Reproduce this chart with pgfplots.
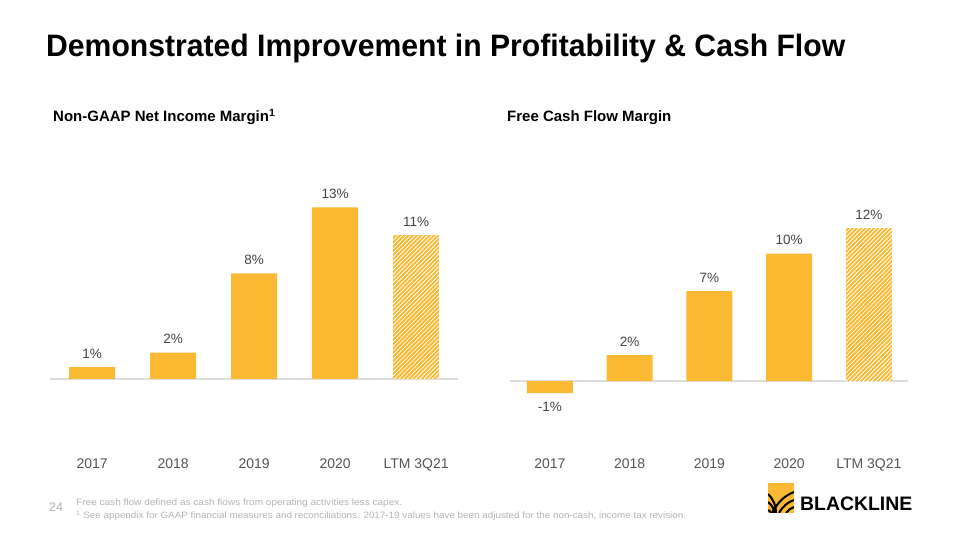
\documentclass[border=0pt]{standalone}
\usepackage{pgfplots}
\pgfplotsset{compat=1.18}
\usepackage{fontspec}
\setmainfont{Liberation Sans}
\usetikzlibrary{patterns.meta}
\definecolor{barc}{HTML}{FBB934}
\definecolor{labc}{HTML}{444444}
\definecolor{tickc}{HTML}{555555}
\definecolor{footc}{HTML}{B4B4B4}
\pgfplotsset{
  mybars/.style={
    axis x line*=bottom, axis y line=none,
    x axis line style={draw=none},
    major tick length=0pt,
    xtick={0,1,2,3,4},
    xticklabels={2017,2018,2019,2020,LTM 3Q21},
    xticklabel style={anchor=base, inner sep=0pt, font=\fontsize{14}{16}\selectfont, text=tickc},
    ybar, bar width=46pt, bar shift=0pt,
    clip=false,
    anchor=south west,
  },
  lbl/.style={
    nodes near coords={\pgfmathprintnumber[fixed,precision=0,assume math mode=true]{\pgfplotspointmeta}\%},
    every node near coord/.append style={font=\fontsize{13.5}{16}\selectfont, text=labc, inner sep=8.5pt},
  },
}
\begin{document}
\begin{tikzpicture}[x=1pt,y=1pt]
\path[use as bounding box, fill=white] (0,0) rectangle (960,540);
% title
\node[anchor=base west, inner sep=0pt] at (46,483)
  {\resizebox{799pt}{\height}{\fontsize{31}{36}\selectfont\bfseries Demonstrated Improvement in Profitability \& Cash Flow}};
% subtitles
\node[anchor=base west, inner sep=0pt] at (53,418)
  {\fontsize{15}{18}\selectfont\bfseries Non-GAAP Net Income Margin\textsuperscript{1}};
\node[anchor=base west, inner sep=0pt] at (507,418)
  {\fontsize{15}{18}\selectfont\bfseries Free Cash Flow Margin};

% left chart
\begin{axis}[mybars, at={(50pt,71pt)}, x=81pt, y=13.2pt,
  xmin=-0.52, xmax=4.52, ymin=-6.82, ymax=14]
\addplot[sharp plot, draw=black!13, line width=1.2pt, forget plot] coordinates {(-0.52,0) (4.52,0)};
\addplot[fill=barc, draw=none, lbl] coordinates {(0,0.9) (1,2.0) (2,8.0) (3,13.0)};
\addplot[fill=barc, draw=none, lbl,
  postaction={pattern={Lines[angle=45,distance=3pt,line width=0.8pt]}, pattern color=white}]
  coordinates {(4,10.9)};
\end{axis}

% right chart
\begin{axis}[mybars, at={(510pt,71pt)}, x=79.75pt, y=12.75pt,
  xmin=-0.5, xmax=4.49, ymin=-6.90, ymax=14]
\addplot[sharp plot, draw=black!13, line width=1.2pt, forget plot] coordinates {(-0.5,0) (4.49,0)};
\addplot[fill=barc, draw=none, lbl] coordinates {(0,-0.94) (1,2.04) (2,7.06) (3,10.0)};
\addplot[fill=barc, draw=none, lbl,
  postaction={pattern={Lines[angle=45,distance=3pt,line width=0.8pt]}, pattern color=white}]
  coordinates {(4,12.0)};
\end{axis}

% footer
\node[anchor=base west, inner sep=0pt, text=footc] at (49,28)
  {\fontsize{12.5}{14}\selectfont 24};
\node[anchor=base west, inner sep=0pt, text=footc] at (76,34)
  {\resizebox{326pt}{\height}{\fontsize{9.2}{10}\selectfont Free cash flow defined as cash flows from operating activities less capex.}};
\node[anchor=base west, inner sep=0pt, text=footc] at (76,21)
  {\resizebox{610pt}{\height}{\fontsize{9.2}{10}\selectfont \textsuperscript{1} See appendix for GAAP financial measures and reconciliations. 2017-19 values have been adjusted for the non-cash, income tax revision.}};

% logo
\fill[barc] (768,27) rectangle (794,57);
\begin{scope}
\clip (768,27) rectangle (794,57);
\draw[black, line width=2pt] (768,46) .. controls (774,40) and (776,34) .. (776,27);
\draw[black, line width=2pt] (768,38) .. controls (772,35) and (774,31) .. (774,27);
\draw[black, line width=2pt] (772,27) .. controls (778,38) and (784,44) .. (794,48);
\draw[black, line width=2pt] (779,27) .. controls (783,34) and (788,38) .. (794,40);
\draw[black, line width=2pt] (786,27) .. controls (788,30) and (791,32) .. (794,33);
\draw[black, line width=2pt] (768,30) .. controls (770,29) and (771,28) .. (771,27);
\end{scope}
\node[anchor=base west, inner sep=0pt] at (800,29)
  {\resizebox{112pt}{\height}{\fontsize{19.5}{22}\selectfont\bfseries BLACKLINE}};
\end{tikzpicture}
\end{document}
